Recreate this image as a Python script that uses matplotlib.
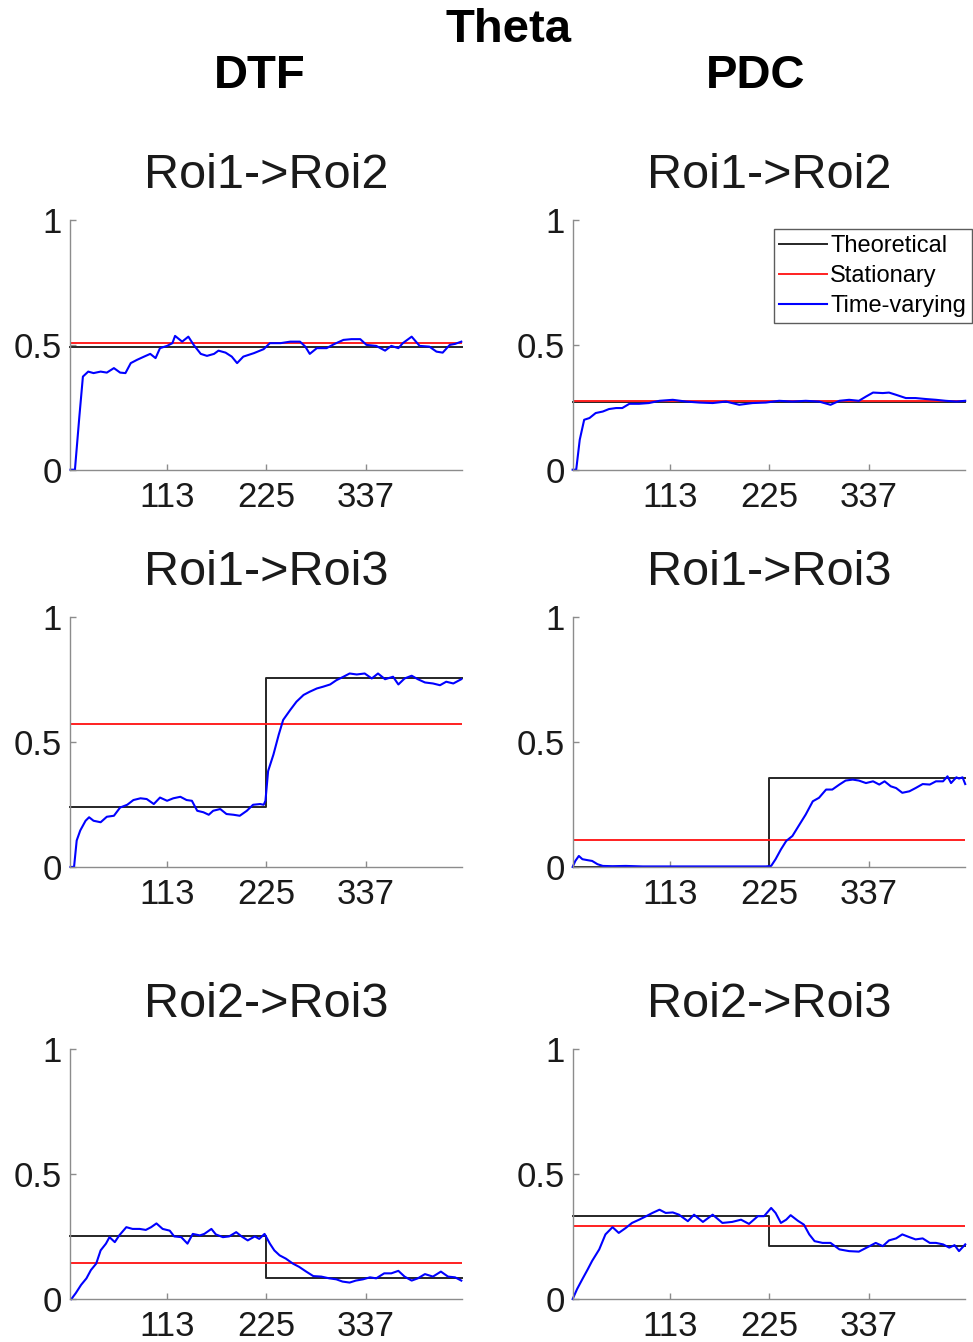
import matplotlib.pyplot as plt

plt.rcParams.update({
    "font.family": ["Liberation Sans", "DejaVu Sans"],
})

t_start, t_end = 3.5, 446
change_point = 225
x_ticks = [113, 225, 337]
y_ticks = [0, 0.5, 1]
y_tick_labels = ["0", "0.5", "1"]

measures = ["DTF", "PDC"]
pairs = ["Roi1->Roi2", "Roi1->Roi3", "Roi2->Roi3"]
legend_labels = ["Theoretical", "Stationary", "Time-varying"]

# theoretical value before / after the change point
dtf_theo = [[0.49, 0.49], [0.241, 0.755], [0.252, 0.086]]
pdc_theo = [[0.271, 0.271], [0.0, 0.356], [0.334, 0.212]]

# stationary estimate
dtf_stat = [0.509, 0.572, 0.146]
pdc_stat = [0.276, 0.106, 0.294]

# time-varying estimates
dtf12_t = [4, 9, 14, 18, 24, 30, 38, 45, 53, 60, 66, 72, 79, 87, 94, 100, 105,
           113, 119, 122, 130, 137, 143, 151, 158, 166, 171, 179, 186, 192, 199,
           211, 222, 229, 241, 252, 263, 269, 274, 282, 293, 302, 312, 321, 331,
           338, 349, 359, 366, 374, 379, 389, 398, 409, 417, 424, 432, 438, 445]
dtf12_v = [0, 0, 0.213, 0.373, 0.393, 0.387, 0.393, 0.389, 0.407, 0.389, 0.387,
           0.427, 0.44, 0.453, 0.464, 0.447, 0.487, 0.496, 0.507, 0.536, 0.513,
           0.533, 0.5, 0.464, 0.456, 0.464, 0.477, 0.469, 0.453, 0.427, 0.453,
           0.467, 0.483, 0.507, 0.507, 0.513, 0.513, 0.493, 0.464, 0.487, 0.487,
           0.504, 0.52, 0.523, 0.523, 0.5, 0.496, 0.477, 0.496, 0.487, 0.507,
           0.533, 0.496, 0.493, 0.473, 0.469, 0.5, 0.504, 0.513]

pdc12_t = [3, 7, 11, 16, 22, 29, 37, 44, 52, 59, 67, 78, 89, 101, 116, 131, 146,
           161, 176, 191, 206, 221, 236, 251, 266, 281, 294, 304, 315, 326, 334,
           342, 353, 360, 368, 379, 390, 402, 413, 424, 436, 446]
pdc12_v = [0, 0, 0.12, 0.2, 0.207, 0.227, 0.233, 0.243, 0.247, 0.247, 0.264,
           0.264, 0.267, 0.276, 0.28, 0.273, 0.269, 0.267, 0.273, 0.26, 0.267,
           0.269, 0.276, 0.273, 0.276, 0.273, 0.26, 0.276, 0.28, 0.276, 0.293,
           0.309, 0.307, 0.309, 0.3, 0.287, 0.287, 0.283, 0.28, 0.276, 0.273,
           0.276]

dtf13_t = [4, 8, 11, 15, 21, 25, 30, 38, 45, 53, 60, 68, 75, 83, 90, 98, 105,
           113, 120, 128, 135, 141, 147, 154, 160, 165, 173, 180, 188, 195, 203,
           210, 218, 222, 224, 227, 233, 239, 244, 252, 259, 267, 274, 282, 289,
           297, 304, 312, 319, 327, 336, 344, 351, 359, 368, 374, 381, 389, 396,
           404, 413, 421, 428, 436, 445]
dtf13_v = [0, 0, 0.106, 0.146, 0.185, 0.199, 0.185, 0.179, 0.201, 0.205, 0.238,
           0.249, 0.268, 0.275, 0.272, 0.252, 0.278, 0.265, 0.275, 0.281, 0.268,
           0.265, 0.225, 0.219, 0.209, 0.225, 0.232, 0.212, 0.209, 0.205, 0.225,
           0.249, 0.252, 0.249, 0.265, 0.384, 0.45, 0.53, 0.589, 0.629, 0.662,
           0.689, 0.702, 0.715, 0.722, 0.731, 0.748, 0.762, 0.775, 0.771, 0.775,
           0.755, 0.775, 0.752, 0.762, 0.731, 0.755, 0.766, 0.752, 0.739, 0.735,
           0.728, 0.742, 0.735, 0.752]

pdc13_t = [3, 6, 10, 14, 20, 25, 31, 37, 48, 63, 82, 221, 227, 232, 238, 244,
           251, 259, 266, 274, 281, 289, 296, 304, 311, 319, 326, 334, 342, 349,
           355, 362, 368, 375, 383, 390, 398, 406, 413, 421, 426, 430, 436, 439,
           443, 446]
pdc13_v = [0, 0.024, 0.044, 0.031, 0.027, 0.024, 0.011, 0.004, 0.003, 0.004,
           0.002, 0.002, 0.004, 0.031, 0.07, 0.104, 0.124, 0.17, 0.21, 0.263,
           0.277, 0.31, 0.31, 0.33, 0.346, 0.35, 0.346, 0.336, 0.343, 0.33,
           0.343, 0.323, 0.316, 0.297, 0.303, 0.316, 0.332, 0.33, 0.343, 0.343,
           0.363, 0.336, 0.359, 0.354, 0.359, 0.332]

dtf23_t = [5, 10, 16, 22, 27, 33, 38, 44, 48, 54, 59, 67, 74, 82, 89, 95, 101,
           108, 116, 121, 129, 136, 142, 150, 155, 163, 168, 176, 183, 191, 197,
           204, 212, 217, 223, 229, 234, 240, 247, 255, 262, 270, 278, 287, 296,
           304, 311, 319, 326, 334, 342, 349, 358, 366, 374, 381, 389, 396, 404,
           413, 422, 430, 438, 445]
dtf23_v = [0, 0.024, 0.057, 0.083, 0.116, 0.142, 0.195, 0.222, 0.248, 0.228,
           0.255, 0.288, 0.281, 0.281, 0.277, 0.288, 0.303, 0.281, 0.274, 0.251,
           0.248, 0.222, 0.261, 0.255, 0.261, 0.281, 0.259, 0.248, 0.251, 0.268,
           0.251, 0.235, 0.251, 0.241, 0.261, 0.222, 0.195, 0.175, 0.162, 0.142,
           0.129, 0.11, 0.092, 0.09, 0.083, 0.079, 0.07, 0.066, 0.074, 0.079,
           0.087, 0.083, 0.103, 0.103, 0.113, 0.09, 0.074, 0.083, 0.1, 0.09,
           0.11, 0.09, 0.087, 0.074]

pdc23_t = [3, 8, 14, 20, 25, 33, 40, 48, 55, 63, 70, 78, 86, 93, 101, 108, 116,
           123, 133, 140, 150, 161, 172, 183, 193, 202, 212, 219, 227, 232, 238,
           244, 249, 257, 264, 270, 276, 285, 294, 304, 315, 326, 338, 345, 353,
           360, 368, 375, 383, 390, 398, 406, 413, 421, 428, 434, 439, 446]
pdc23_v = [0, 0.04, 0.08, 0.119, 0.153, 0.199, 0.259, 0.288, 0.265, 0.285,
           0.305, 0.318, 0.332, 0.345, 0.358, 0.345, 0.347, 0.338, 0.312, 0.338,
           0.309, 0.338, 0.305, 0.309, 0.318, 0.301, 0.332, 0.332, 0.365, 0.345,
           0.305, 0.318, 0.336, 0.314, 0.298, 0.259, 0.232, 0.225, 0.225, 0.199,
           0.192, 0.19, 0.212, 0.225, 0.212, 0.235, 0.243, 0.259, 0.248, 0.239,
           0.243, 0.225, 0.225, 0.219, 0.206, 0.216, 0.192, 0.219]

tv = {
    "DTF": [(dtf12_t, dtf12_v), (dtf13_t, dtf13_v), (dtf23_t, dtf23_v)],
    "PDC": [(pdc12_t, pdc12_v), (pdc13_t, pdc13_v), (pdc23_t, pdc23_v)],
}
theo = {"DTF": dtf_theo, "PDC": pdc_theo}
stat = {"DTF": dtf_stat, "PDC": pdc_stat}

fig = plt.figure(figsize=(9.73, 13.42), dpi=100)

col_left = [0.072, 0.589]
row_bottom = [0.650, 0.354, 0.032]
ax_w, ax_h = 0.403, 0.186

axes = {}
for c, m in enumerate(measures):
    for r, pair in enumerate(pairs):
        ax = fig.add_axes([col_left[c], row_bottom[r], ax_w, ax_h])
        axes[(r, c)] = ax

        before, after = theo[m][r]
        ax.plot([t_start, change_point, change_point, t_end],
                [before, before, after, after],
                color="#262626", lw=1.4, label=legend_labels[0], clip_on=False)
        ax.plot([t_start, t_end], [stat[m][r], stat[m][r]],
                color="#ff2020", lw=1.4, label=legend_labels[1])
        t, v = tv[m][r]
        ax.plot(t, v, color="#0000ff", lw=1.5, label=legend_labels[2],
                clip_on=False)

        ax.set_xlim(t_start, t_end)
        ax.set_ylim(0, 1)
        ax.set_xticks(x_ticks)
        ax.set_yticks(y_ticks)
        ax.set_yticklabels(y_tick_labels)
        for s in ["top", "right"]:
            ax.spines[s].set_visible(False)
        for s in ["left", "bottom"]:
            ax.spines[s].set_color("#8c8c8c")
            ax.spines[s].set_linewidth(1.0)
        ax.tick_params(direction="in", length=4, width=1, color="#8c8c8c",
                       labelsize=25, labelcolor="#1a1a1a")
        ax.tick_params(axis="x", pad=8)
        ax.tick_params(axis="y", pad=6)
        ax.set_title(pair, fontsize=35, pad=23, color="#1a1a1a")

leg = axes[(0, 1)].legend(loc="upper right", bbox_to_anchor=(0.999, 0.829),
                          bbox_transform=fig.transFigure, fontsize=17,
                          frameon=True, fancybox=False, borderaxespad=0,
                          borderpad=0.25, handlelength=2.0, handletextpad=0.15,
                          labelspacing=0.34)
leg.get_frame().set_edgecolor("#333333")
leg.get_frame().set_linewidth(1.0)

fig.text(0.523, 0.978, "Theta", fontsize=34, fontweight="bold",
         ha="center", va="center")
fig.text(0.267, 0.943, "DTF", fontsize=34, fontweight="bold",
         ha="center", va="center")
fig.text(0.777, 0.943, "PDC", fontsize=34, fontweight="bold",
         ha="center", va="center")

fig.savefig("out.png", dpi=100)
